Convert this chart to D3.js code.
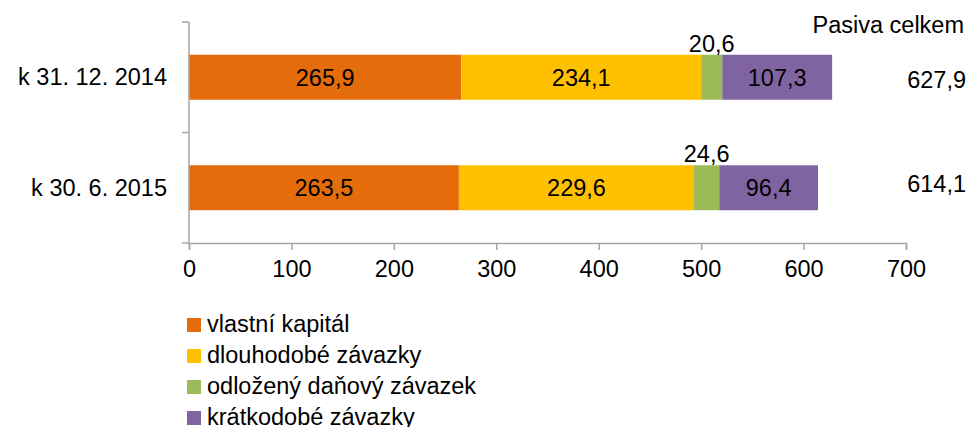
<!DOCTYPE html>
<html>
<head>
<meta charset="utf-8">
<script src="https://cdn.jsdelivr.net/npm/d3@7"></script>
<style>
  body { margin: 0; background: #fff; }
  svg text { font-family: "Liberation Sans", Arial, sans-serif; fill: #000; }
</style>
</head>
<body>
<div id="chart"></div>
<script>
// categories and series (mld. Kč)
const categories = ['k 31. 12. 2014', 'k 30. 6. 2015'];
const seriesNames = ['vlastní kapitál', 'dlouhodobé závazky', 'odložený daňový závazek', 'krátkodobé závazky'];
const seriesColors = ['#E46C0A', '#FFC000', '#9BBB59', '#8064A2'];
const vlastniKapital = [265.9, 263.5];
const dlouhodobeZavazky = [234.1, 229.6];
const odlozenyDan = [20.6, 24.6];
const kratkodobeZavazky = [107.3, 96.4];
const totals = [627.9, 614.1];
const xTicks = [0, 100, 200, 300, 400, 500, 600, 700];

const width = 969, height = 427;
const fontSize = 23.5;
const axisColor = '#a6a6a6';

const svg = d3.select('#chart').append('svg')
    .attr('width', width)
    .attr('height', height);

const x = d3.scaleLinear().domain([0, 700]).range([189, 906]);
const y = d3.scaleBand().domain(categories).range([22, 243]).paddingInner(0.593).paddingOuter(0.2965);

// stacked data
const table = categories.map((c, i) => ({
    cat: c,
    [seriesNames[0]]: vlastniKapital[i],
    [seriesNames[1]]: dlouhodobeZavazky[i],
    [seriesNames[2]]: odlozenyDan[i],
    [seriesNames[3]]: kratkodobeZavazky[i]
}));
const stacked = d3.stack().keys(seriesNames)(table);

const fmt = v => d3.format('.1f')(v).replace('.', ',');

// bars
const groups = svg.append('g').selectAll('g')
    .data(stacked)
    .join('g')
    .attr('fill', (d, i) => seriesColors[i]);

groups.selectAll('rect')
    .data(d => d)
    .join('rect')
    .attr('x', d => x(d[0]))
    .attr('y', d => y(d.data.cat))
    .attr('width', d => x(d[1]) - x(d[0]))
    .attr('height', y.bandwidth());

// segment labels (the thin green one sits above its bar)
stacked.forEach((s, si) => {
    svg.append('g').selectAll('text')
        .data(s)
        .join('text')
        .attr('x', d => (x(d[0]) + x(d[1])) / 2)
        .attr('y', d => si === 2 ? y(d.data.cat) - 3 : y(d.data.cat) + y.bandwidth() / 2)
        .attr('dy', si === 2 ? 0 : '0.36em')
        .attr('text-anchor', 'middle')
        .attr('font-size', fontSize)
        .text(d => fmt(d[1] - d[0]));
});

// axes
const xAxis = svg.append('g')
    .attr('transform', 'translate(0,243)')
    .call(d3.axisBottom(x).tickValues(xTicks).tickSize(7).tickPadding(10).tickFormat(d => d));
xAxis.select('.domain').attr('stroke', axisColor).attr('stroke-width', 1.5);
xAxis.selectAll('.tick line').attr('stroke', axisColor).attr('stroke-width', 1.5);
xAxis.selectAll('.tick text').attr('font-size', fontSize).attr('font-family', '"Liberation Sans", Arial, sans-serif');

const yAxis = svg.append('g').attr('transform', 'translate(189,0)');
yAxis.append('line')
    .attr('y1', 22).attr('y2', 243)
    .attr('stroke', axisColor).attr('stroke-width', 1.5);
yAxis.selectAll('.sep')
    .data([22, 22 + y.step(), 243])
    .join('line')
    .attr('x1', -7).attr('x2', 0)
    .attr('y1', d => d).attr('y2', d => d)
    .attr('stroke', axisColor).attr('stroke-width', 1.5);

// category labels
svg.append('g').selectAll('text')
    .data(categories)
    .join('text')
    .attr('x', 167)
    .attr('y', d => y(d) + y.bandwidth() / 2)
    .attr('dy', '0.35em')
    .attr('text-anchor', 'end')
    .attr('font-size', fontSize)
    .text(d => d);

// totals
svg.append('text')
    .attr('x', 964).attr('y', 25).attr('dy', '0.35em')
    .attr('text-anchor', 'end')
    .attr('font-size', fontSize)
    .text('Pasiva celkem');

svg.append('g').selectAll('text')
    .data(totals)
    .join('text')
    .attr('x', 966)
    .attr('y', (d, i) => y(categories[i]) + y.bandwidth() / 2 + (i === 0 ? 3 : -4))
    .attr('dy', '0.35em')
    .attr('text-anchor', 'end')
    .attr('font-size', fontSize)
    .text(d => fmt(d));

// legend
const legend = svg.append('g').selectAll('g')
    .data(seriesNames)
    .join('g')
    .attr('transform', (d, i) => `translate(187,${325 + i * 31})`);
legend.append('rect')
    .attr('x', 0).attr('y', -7)
    .attr('width', 14).attr('height', 14)
    .attr('fill', (d, i) => seriesColors[i]);
legend.append('text')
    .attr('x', 20).attr('y', 7)
    .attr('font-size', fontSize)
    .text(d => d);
</script>
</body>
</html>
